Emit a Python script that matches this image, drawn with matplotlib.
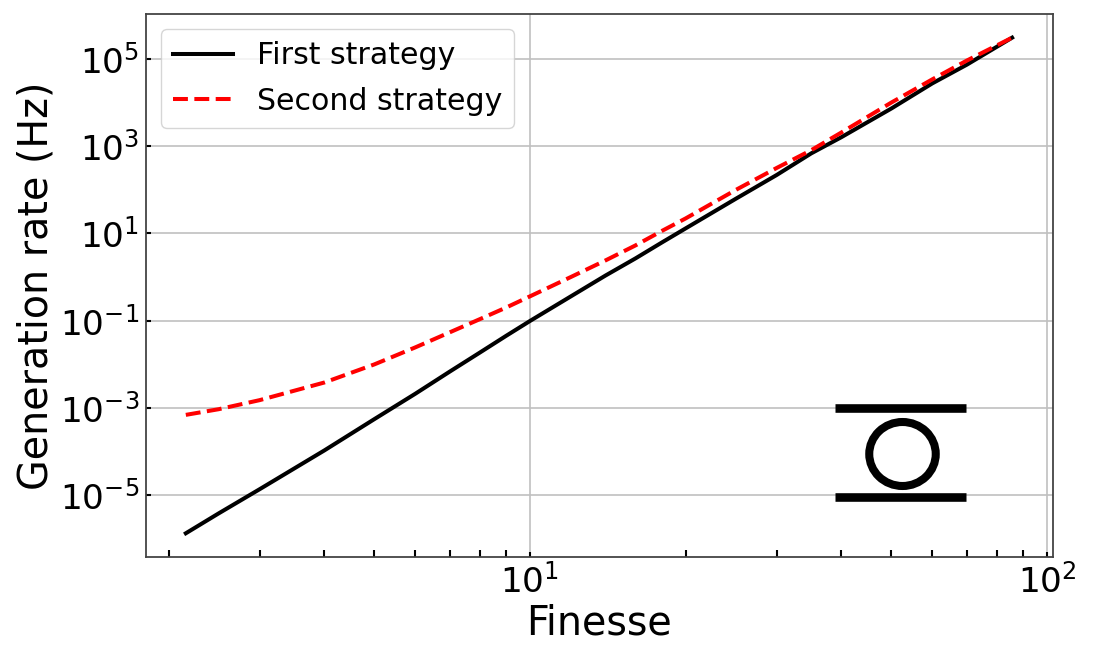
from matplotlib import pyplot as plt
from matplotlib.patches import Ellipse

finesse = [2.16, 2.5, 3, 4, 5, 6, 7, 8, 9, 10, 12, 14, 16, 18, 20, 25, 30, 35, 40, 50, 60, 70, 85.6]

# first strategy
rate_1 = [1.33e-6, 3.8e-6, 1.36e-5, 1.05e-4, 5.5e-4, 2.1e-3, 6.8e-3, 1.85e-2, 4.5e-2, 9.8e-2,
          3.6e-1, 1.08, 2.67, 6.2, 13, 62, 218, 684, 1600, 7300, 27500, 7.4e4, 3.07e5]

# second strategy
rate_2 = [6.9e-4, 9.3e-4, 1.5e-3, 3.8e-3, 9.9e-3, 2.43e-2, 5.4e-2, 1.08e-1, 2.0e-1, 3.6e-1,
          1.0, 2.4, 5.3, 11.4, 22, 99, 316, 810, 2050, 1.0e4, 3.4e4, 9.2e4, 3.07e5]

fig = plt.figure(figsize=(11.1, 6.51), dpi=100)
ax = fig.add_axes([146 / 1110, 1 - 557 / 651, (1053 - 146) / 1110, (557 - 14) / 651])

ax.loglog(finesse, rate_1, color="black", lw=2.9, label="First strategy")
ax.loglog(finesse, rate_2, color="red", ls="--", lw=2.9, label="Second strategy")

ax.set_xlim(1.809, 102.7)
ax.set_ylim(10 ** -6.42, 10 ** 6.03)
ax.set_yticks([1e-5, 1e-3, 1e-1, 1e1, 1e3, 1e5])
ax.minorticks_off()
ax.set_xticks([2, 3, 4, 5, 6, 7, 8, 9, 20, 30, 40, 50, 60, 70, 80, 90], minor=True)
ax.set_xticklabels([], minor=True)
ax.set_xticks([10, 100])

ax.grid(True, which="major", color="#c0c0c0", lw=1.2)
ax.tick_params(which="both", direction="in", width=1.5)
ax.tick_params(which="major", length=3.5, labelsize=24.7, pad=5)
ax.tick_params(which="minor", length=4.8)
for s in ax.spines.values():
    s.set_color("#444444")
    s.set_linewidth(1.3)

ax.set_xlabel("Finesse", fontsize=28.5, labelpad=3)
ax.set_ylabel("Generation rate (Hz)", fontsize=28.5, labelpad=2.5)
ax.legend(loc="upper left", fontsize=21.6, labelspacing=0.55)

# ring resonator icon
for py in [408, 497]:
    fig.add_artist(plt.Line2D([835 / 1110, 966 / 1110], [1 - py / 651] * 2, color="black", lw=6.2, solid_capstyle="butt"))
ring = Ellipse((902.5, 651 - 454), 66.5, 64, fill=False, ec="black", lw=5.8, transform=None)
fig.add_artist(ring)

plt.savefig("out.png", dpi=100)
